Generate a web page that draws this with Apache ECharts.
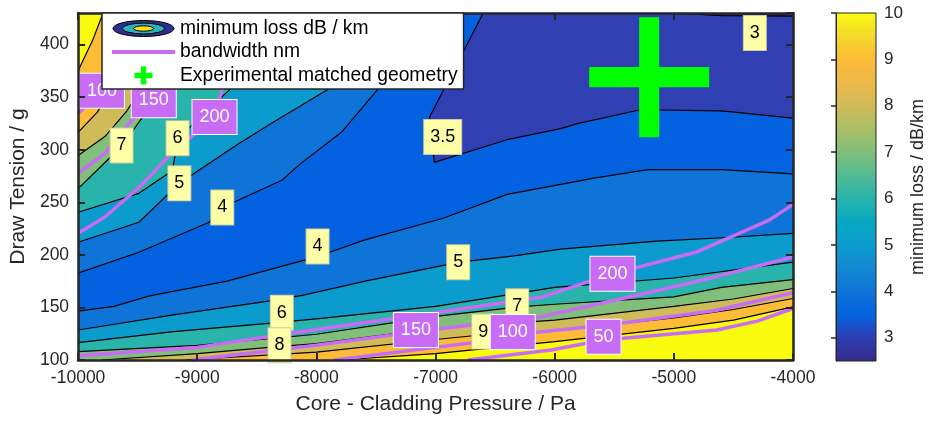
<!DOCTYPE html>
<html>
<head>
<meta charset="utf-8">
<script src="https://cdn.jsdelivr.net/npm/echarts@6/dist/echarts.min.js"></script>
<style>
  html, body { margin: 0; background: #fff; }
  #main { width: 932px; height: 421px; }
</style>
</head>
<body>
<div id="main"></div>
<script>
// plot range
var xMin = -10000, xMax = -4000, yMin = 100, yMax = 430;

// contour lines of minimum loss, points are [pressure Pa, tension g]
var loss3 = [[-5000, 430], [-4600, 427.5], [-4000, 427]];
var loss35 = [[-6600, 430], [-7050, 331], [-7010, 288], [-6400, 309.5], [-5950, 320], [-5800, 325], [-5280, 338], [-4600, 337], [-4000, 330]];
var loss4Low = [[-10000, 146.5], [-9700, 151], [-9400, 161], [-8750, 175], [-8070, 196], [-7900, 202], [-7600, 214], [-6930, 235], [-6400, 257.5], [-5950, 267], [-5670, 273], [-5220, 281], [-4600, 281], [-4000, 277]];
var loss4Up = [[-10000, 182.6], [-9490, 202.5], [-8900, 231], [-8790, 245], [-8290, 271], [-8130, 287], [-7790, 316.5], [-7480, 358], [-6950, 430]];
var loss5Low = [[-10000, 128.5], [-9200, 143], [-8400, 156], [-8120, 161.5], [-7570, 175.5], [-6800, 193], [-6340, 199], [-5950, 205.5], [-5140, 213], [-4550, 216.5], [-4000, 220.5]];
var loss5Up = [[-10000, 212], [-9490, 231], [-9150, 268], [-8650, 306], [-8380, 325], [-7880, 359], [-7370, 430]];
var loss6Low = [[-10000, 116.5], [-9200, 127], [-8380, 135], [-7960, 139.5], [-7000, 151], [-6000, 169], [-5000, 178], [-4000, 193]];
var loss6Up = [[-10000, 240.5], [-9490, 258.5], [-9210, 280], [-9160, 310.5], [-8960, 332.5], [-8710, 359], [-8210, 430]];
var loss7Low = [[-10000, 108], [-9000, 114], [-8000, 124.5], [-7000, 141.5], [-6300, 150.5], [-6000, 153], [-5000, 160], [-4600, 169], [-4000, 176.5]];
var loss7Up = [[-10000, 263], [-9800, 285], [-9630, 304], [-9465, 330], [-9255, 359], [-8800, 430]];
var loss8Low = [[-9800, 100], [-9000, 106], [-8300, 113], [-8000, 115.5], [-7000, 130], [-6000, 138], [-5000, 151], [-4500, 158], [-4000, 168]];
var loss8Up = [[-10000, 294.5], [-9775, 312.5], [-9590, 337], [-9465, 359], [-9090, 430]];
var loss9Low = [[-9100, 100], [-8000, 107.5], [-7000, 119.5], [-6600, 124], [-6000, 128], [-5000, 140], [-4500, 148], [-4000, 158.5]];
var loss9Up = [[-10000, 316.5], [-9840, 335.5], [-9715, 359], [-9380, 430]];
var loss10Low = [[-7800, 100], [-7000, 106], [-6000, 117.5], [-5000, 130], [-4500, 138], [-4000, 150.5]];
var loss10Up = [[-10000, 375], [-9880, 403.5], [-9790, 430]];

// bandwidth contours (nm)
var bw50 = [[-6730, 100], [-6030, 109.5], [-5590, 119], [-4640, 128.5], [-4300, 137], [-4000, 149]];
var bw100Low = [[-7850, 100], [-6650, 117], [-6350, 124], [-5500, 134], [-4650, 147], [-4000, 164]];
var bw100Up = [[-10000, 334.5], [-9800, 356], [-9675, 385], [-9550, 430]];
var bw150Low = [[-9050, 100], [-8000, 114], [-7160, 127], [-6120, 141], [-5290, 162], [-4650, 179], [-4000, 198]];
var bw150Up = [[-10000, 277.5], [-9775, 296.5], [-9550, 328], [-9365, 347], [-9215, 375], [-9045, 430]];
var bw200Low = [[-10000, 104], [-9000, 112], [-8000, 129], [-7000, 145], [-6100, 160], [-5550, 181], [-4800, 203], [-4200, 233], [-4000, 248]];
var bw200Up = [[-10000, 220.5], [-9775, 236], [-9490, 264], [-9215, 296.5], [-8855, 331], [-8795, 356], [-8695, 385], [-8545, 430]];

// contour labels [x, y, text]
var lossLabels = [[-4320, 411, '3'], [-6940, 312, '3.5'], [-8790, 245, '4'], [-7990, 208, '4'], [-6810, 193, '5'], [-9150, 268, '5'],
  [-8290, 145, '6'], [-9165, 311, '6'], [-6315, 151, '7'], [-9635, 304, '7'], [-8310, 114, '8'], [-6600, 127, '9']];
var bwLabels = [[-9800, 356, '100'], [-9365, 347, '150'], [-8855, 331, '200'], [-5515, 182, '200'], [-7165, 128.5, '150'], [-6352, 126.6, '100'], [-5590, 122, '50']];

var matched = [[-5207, 369]];

// colorbar
var cbMin = 2.5, cbMax = 10;
var cbTicks = [3, 4, 5, 6, 7, 8, 9, 10];
var cbStops = [[2.5, '#352a87'], [3, '#2f3db3'], [3.5, '#0462e0'], [4, '#0e74d8'], [4.5, '#1388d2'], [5, '#0c9bcd'], [5.5, '#08a8c2'],
  [6, '#28b3ab'], [6.5, '#52bb93'], [7, '#80bf7a'], [7.5, '#a9be67'], [8, '#d0bb59'], [8.5, '#edb948'], [9, '#fcbc37'], [9.5, '#f4d92b'], [10, '#f9fb0e']];

var bandColor = {
  2.5: '#352a87', 3: '#3040b2', 3.5: '#0462e0', 4: '#0e74d8', 5: '#0c9bcd',
  6: '#28b3ab', 7: '#80bf7a', 8: '#d0bb59', 9: '#fcbc37', 10: '#f9fb0e'
};

var font = '"Liberation Sans", Arial, Helvetica, sans-serif';
var axisColor = '#262626';
var purple = '#c86cf5';

// close a contour to the top or bottom edge of the plot
function closeTop(line) {
  var a = line.slice();
  a.push([line[line.length - 1][0], yMax], [line[0][0], yMax]);
  return a;
}
function closeBottom(line) {
  var a = line.slice();
  a.push([line[line.length - 1][0], yMin], [line[0][0], yMin]);
  return a;
}

// filled bands, painted in order
var fills = [
  { poly: [[xMin, yMin], [xMax, yMin], [xMax, yMax], [xMin, yMax]], color: bandColor[3.5] },
  { poly: closeTop(loss35), color: bandColor[3] },
  { poly: closeTop(loss3), color: bandColor[2.5] },
  { poly: closeBottom(loss4Low), color: bandColor[4] }, { poly: closeTop(loss4Up), color: bandColor[4] },
  { poly: closeBottom(loss5Low), color: bandColor[5] }, { poly: closeTop(loss5Up), color: bandColor[5] },
  { poly: closeBottom(loss6Low), color: bandColor[6] }, { poly: closeTop(loss6Up), color: bandColor[6] },
  { poly: closeBottom(loss7Low), color: bandColor[7] }, { poly: closeTop(loss7Up), color: bandColor[7] },
  { poly: closeBottom(loss8Low), color: bandColor[8] }, { poly: closeTop(loss8Up), color: bandColor[8] },
  { poly: closeBottom(loss9Low), color: bandColor[9] }, { poly: closeTop(loss9Up), color: bandColor[9] },
  { poly: closeBottom(loss10Low), color: bandColor[10] }, { poly: closeTop(loss10Up), color: bandColor[10] }
];

var lossLines = [loss3, loss35, loss4Low, loss4Up, loss5Low, loss5Up, loss6Low, loss6Up, loss7Low, loss7Up,
  loss8Low, loss8Up, loss9Low, loss9Up, loss10Low, loss10Up];
var bwLines = [bw50, bw100Low, bw100Up, bw150Low, bw150Up, bw200Low, bw200Up];

var ellipseSvg = '<svg xmlns="http://www.w3.org/2000/svg" width="63" height="18" viewBox="0 0 63 18">' +
  '<ellipse cx="31.5" cy="9" rx="30.5" ry="8" fill="#2e2f8f" stroke="#000" stroke-width="1"/>' +
  '<ellipse cx="31.5" cy="9" rx="21" ry="5.4" fill="#2ab3bd" stroke="#000" stroke-width="1"/>' +
  '<ellipse cx="31.5" cy="9" rx="10" ry="2.7" fill="#f5e01a" stroke="#000" stroke-width="1"/></svg>';
var plusPath = 'path://M8.33,0H11.67V8.33H20V11.67H11.67V20H8.33V11.67H0V8.33H8.33Z';
var plusIcon = 'path://M7,0H13V7H20V13H13V20H7V13H0V7H7Z';

var series = [];

series.push({
  name: 'minimum loss dB / km',
  type: 'custom',
  silent: true,
  z: 1,
  data: fills.map(function (f) { return f.poly[0]; }),
  encode: { x: 0, y: 1 },
  renderItem: function (params, api) {
    var f = fills[params.dataIndex];
    return {
      type: 'polygon',
      shape: { points: f.poly.map(function (p) { return api.coord(p); }) },
      style: { fill: f.color }
    };
  }
});

lossLines.forEach(function (line) {
  series.push({
    type: 'line', data: line, showSymbol: false, silent: true, z: 2,
    lineStyle: { color: '#000', width: 1.2 }
  });
});

bwLines.forEach(function (line) {
  series.push({
    name: 'bandwidth nm',
    type: 'line', data: line, showSymbol: false, silent: true, z: 3,
    itemStyle: { color: purple },
    lineStyle: { color: purple, width: 3.5 }
  });
});

series.push({
  type: 'scatter', data: lossLabels, symbolSize: 1, silent: true, z: 5,
  itemStyle: { color: 'transparent', opacity: 1 },
  label: {
    show: true, position: 'inside', formatter: function (p) { return p.data[2]; },
    fontSize: 18, lineHeight: 19, color: '#000', fontFamily: font,
    backgroundColor: '#ffffa8', borderColor: '#c9c9a5', borderWidth: 1, padding: [8, 6, 7, 6]
  }
});

series.push({
  type: 'scatter', data: bwLabels, symbolSize: 1, silent: true, z: 6,
  itemStyle: { color: 'transparent', opacity: 1 },
  label: {
    show: true, position: 'inside', formatter: function (p) { return p.data[2]; },
    fontSize: 18, lineHeight: 19, color: '#fff', fontFamily: font,
    backgroundColor: purple, borderColor: '#fff', borderWidth: 1, padding: [8, 7, 7, 7]
  }
});

series.push({
  name: 'Experimental matched geometry',
  type: 'scatter', data: matched, symbol: plusPath, symbolSize: 120, silent: true, z: 7,
  itemStyle: { color: '#00ff00', opacity: 1 }
});

// colorbar
series.push({
  type: 'custom', xAxisIndex: 2, yAxisIndex: 2, silent: true,
  data: [[0, cbMin, 1, cbMax]],
  encode: { x: [0, 2], y: [1, 3] },
  renderItem: function (params, api) {
    var p0 = api.coord([api.value(0), api.value(1)]);
    var p1 = api.coord([api.value(2), api.value(3)]);
    return {
      type: 'rect',
      shape: { x: p0[0], y: p1[1], width: p1[0] - p0[0], height: p0[1] - p1[1] },
      style: {
        fill: new echarts.graphic.LinearGradient(0, 1, 0, 0, cbStops.map(function (s) {
          return { offset: (s[0] - cbMin) / (cbMax - cbMin), color: s[1] };
        })),
        stroke: axisColor, lineWidth: 1
      }
    };
  }
});

function plain(v) { return String(v); }

function frameAxis(pos, labels) {
  return {
    position: pos, z: 10,
    axisLine: { lineStyle: { color: axisColor, width: 2.5 } },
    axisTick: { inside: true, length: 7, lineStyle: { color: axisColor, width: 2 } },
    axisLabel: { show: labels, color: axisColor, fontSize: 17.5, fontFamily: font, margin: 9, showMaxLabel: false, formatter: plain },
    splitLine: { show: false }
  };
}

var xBottom = Object.assign(frameAxis('bottom', true), {
  gridIndex: 0, type: 'value', min: xMin, max: xMax, interval: 1000,
  name: 'Core - Cladding Pressure / Pa', nameLocation: 'middle', nameGap: 34,
  nameTextStyle: { color: axisColor, fontSize: 21, fontFamily: font }
});
xBottom.axisLabel.showMaxLabel = true;
var xTop = Object.assign(frameAxis('top', false), { gridIndex: 0, type: 'value', min: xMin, max: xMax, interval: 1000 });
var yLeft = Object.assign(frameAxis('left', true), {
  gridIndex: 0, type: 'value', min: yMin, max: yMax, interval: 50,
  name: 'Draw Tension / g', nameLocation: 'middle', nameGap: 44, nameRotate: 90,
  nameTextStyle: { color: axisColor, fontSize: 21, fontFamily: font }
});
var yRight = Object.assign(frameAxis('right', false), { gridIndex: 0, type: 'value', min: yMin, max: yMax, interval: 50 });

var option = {
  animation: false,
  textStyle: { fontFamily: font },
  grid: [
    { left: 76, top: 13, width: 717, height: 347 },
    { left: 836, top: 13, width: 40, height: 348 }
  ],
  legend: {
    orient: 'vertical', left: 102, top: 13, z: 20,
    data: [
      { name: 'minimum loss dB / km', icon: 'image://data:image/svg+xml;charset=utf-8,' + encodeURIComponent(ellipseSvg) },
      { name: 'bandwidth nm', icon: 'path://M0,0H60V3.6H0Z' },
      { name: 'Experimental matched geometry', icon: plusIcon }
    ],
    itemWidth: 63, itemHeight: 18, itemGap: 4.5,
    padding: [6, 6, 4, 10],
    backgroundColor: '#fff', borderColor: axisColor, borderWidth: 1.5,
    selectedMode: false,
    textStyle: { fontSize: 19.3, color: '#000', fontFamily: font }
  },
  xAxis: [xBottom, xTop, { gridIndex: 1, type: 'value', min: 0, max: 1, show: false }],
  yAxis: [yLeft, yRight, {
    gridIndex: 1, type: 'value', min: cbMin, max: cbMax, position: 'right', z: 10,
    axisLine: { show: true, lineStyle: { color: axisColor, width: 1 } },
    axisTick: { show: true, inside: true, length: 5, customValues: cbTicks, lineStyle: { color: axisColor, width: 1.5 } },
    axisLabel: { show: true, customValues: cbTicks, color: axisColor, fontSize: 17, fontFamily: font, margin: 8 },
    splitLine: { show: false },
    name: 'minimum loss / dB/km', nameLocation: 'middle', nameGap: 33, nameRotate: 90,
    nameTextStyle: { color: axisColor, fontSize: 18, fontFamily: font }
  }],
  series: series
};

var chart = echarts.init(document.getElementById('main'));
chart.setOption(option);
</script>
</body>
</html>
